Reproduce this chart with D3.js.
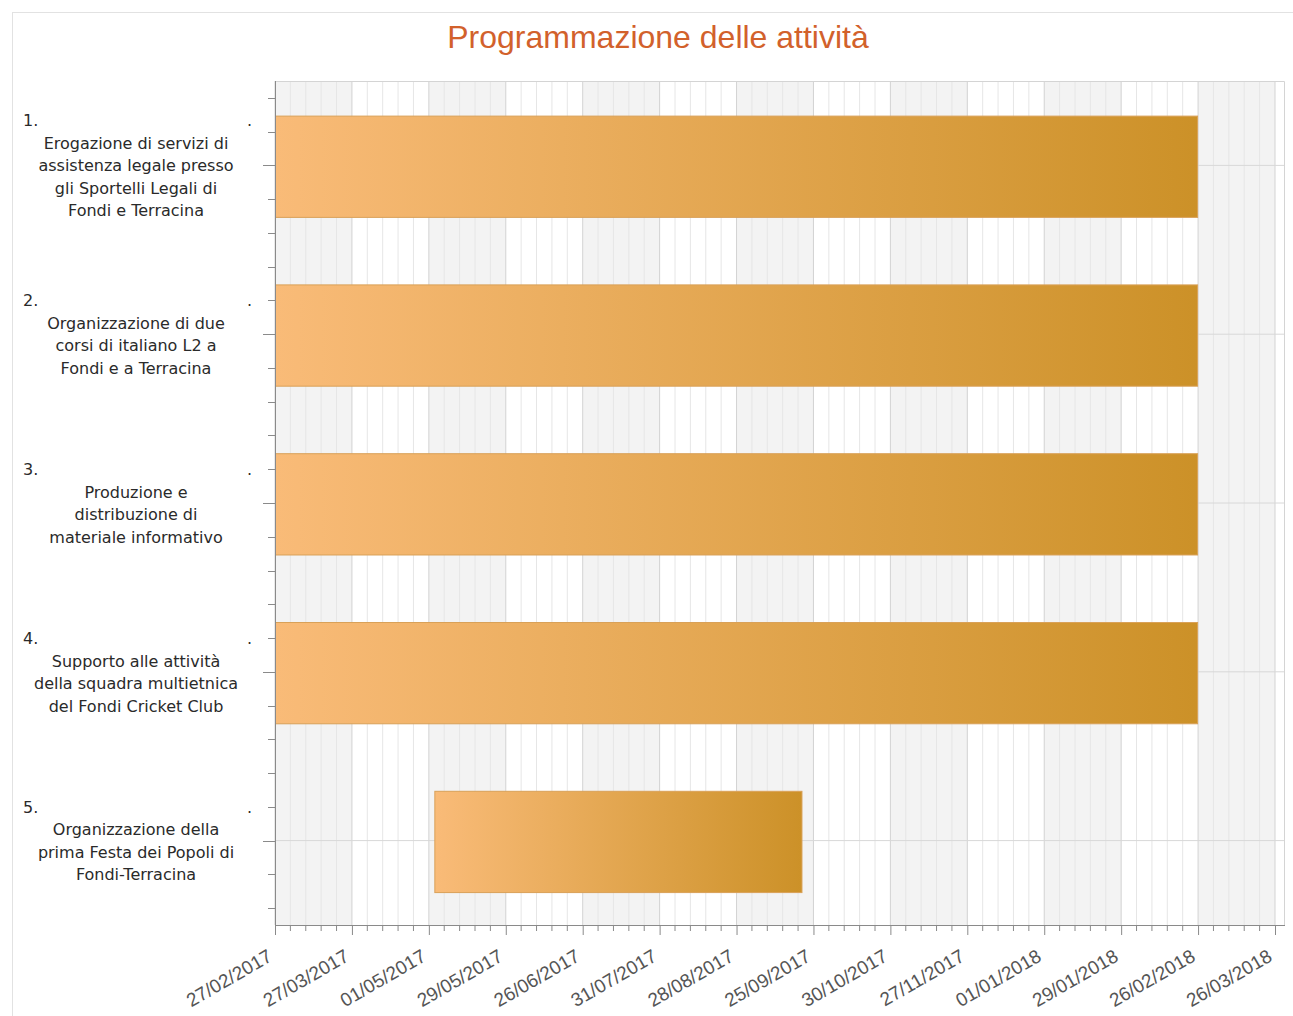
<!DOCTYPE html>
<html>
<head>
<meta charset="utf-8">
<script src="https://cdn.jsdelivr.net/npm/d3@7"></script>
<style>
  body { margin: 0; background: #fff; }
  svg { display: block; }
</style>
</head>
<body>
<svg width="1293" height="1016"></svg>
<script>
// Gantt chart - Programmazione delle attività
const chartTitle = "Programmazione delle attività";

const activityNums = ["1.", "2.", "3.", "4.", "5."];
const activityLabels = [
    ["Erogazione di servizi di", "assistenza legale presso", "gli Sportelli Legali di", "Fondi e Terracina"],
    ["Organizzazione di due", "corsi di italiano L2 a", "Fondi e a Terracina"],
    ["Produzione e", "distribuzione di", "materiale informativo"],
    ["Supporto alle attività", "della squadra multietnica", "del Fondi Cricket Club"],
    ["Organizzazione della", "prima Festa dei Popoli di", "Fondi-Terracina"]
];
const startDates = ["27/02/2017", "27/02/2017", "27/02/2017", "27/02/2017", "03/05/2017"];
const endDates   = ["26/02/2018", "26/02/2018", "26/02/2018", "26/02/2018", "21/09/2017"];

const tickLabels = ["27/02/2017", "27/03/2017", "01/05/2017", "29/05/2017", "26/06/2017",
    "31/07/2017", "28/08/2017", "25/09/2017", "30/10/2017", "27/11/2017",
    "01/01/2018", "29/01/2018", "26/02/2018", "26/03/2018"];

const parseDate = d3.timeParse("%d/%m/%Y");
const formatDate = d3.timeFormat("%d/%m/%Y");

const svg = d3.select("svg");
const width = +svg.attr("width");
const height = +svg.attr("height");

const margin = {top: 81, left: 275, bottom: 91, right: 8};
const innerwidth = width - margin.left - margin.right;
const innerheight = height - margin.top - margin.bottom;

// outer frame
svg.append("rect")
    .attr("x", 12.5).attr("y", 12.5)
    .attr("width", width + 20).attr("height", height + 20)
    .attr("fill", "none")
    .attr("stroke", "#e2e2e2");

svg.append("text")
    .attr("x", 658).attr("y", 48)
    .attr("text-anchor", "middle")
    .attr("font-family", "'Liberation Sans', Arial, sans-serif")
    .attr("font-size", 32)
    .attr("fill", "#d2612b")
    .text(chartTitle);

const tickDates = tickLabels.map(parseDate);
// every labelled tick gets the same width, the tool spaces them evenly
const step = (innerwidth - 10) / (tickDates.length - 1);
const xScale = d3.scaleTime()
    .domain(tickDates)
    .range(tickDates.map((d, i) => i * step));

const yScale = d3.scaleBand()
    .domain(activityNums)
    .range([0, innerheight]);
const bw = yScale.bandwidth();

const g = svg.append("g")
    .attr("transform", `translate(${margin.left}, ${margin.top})`);

// alternating bands
const bandPairs = d3.pairs(tickDates);
g.selectAll(".band").data(bandPairs.filter((p, i) => i % 2 === 0))
    .enter().append("rect")
        .attr("class", "band")
        .attr("x", p => xScale(p[0]))
        .attr("y", 0)
        .attr("width", p => xScale(p[1]) - xScale(p[0]))
        .attr("height", innerheight)
        .attr("fill", "#f3f3f3");

// minor grid (5 sub-divisions per label)
const minorX = [];
bandPairs.forEach(p => {
    const a = xScale(p[0]), b = xScale(p[1]);
    for (let k = 1; k < 5; k++) minorX.push(a + k * (b - a) / 5);
});
g.selectAll(".minor").data(minorX)
    .enter().append("line")
        .attr("x1", d => d).attr("x2", d => d)
        .attr("y1", 0).attr("y2", innerheight)
        .attr("stroke", "#e6e6e6");

g.selectAll(".major").data(tickDates)
    .enter().append("line")
        .attr("x1", d => xScale(d)).attr("x2", d => xScale(d))
        .attr("y1", 0).attr("y2", innerheight)
        .attr("stroke", "#d3d3d3");

// horizontal grid at category centres
g.selectAll(".hgrid").data(activityNums)
    .enter().append("line")
        .attr("x1", 0).attr("x2", innerwidth)
        .attr("y1", d => yScale(d) + bw / 2).attr("y2", d => yScale(d) + bw / 2)
        .attr("stroke", "#d8d8d8");

// plot border top / right
g.append("path")
    .attr("d", `M0,0.5H${innerwidth - 0.5}V${innerheight}`)
    .attr("fill", "none")
    .attr("stroke", "#d4d4d4");

// bars
const defs = svg.append("defs");
const grad = defs.append("linearGradient").attr("id", "barGrad");
grad.append("stop").attr("offset", "0%").attr("stop-color", "#f9bb78");
grad.append("stop").attr("offset", "100%").attr("stop-color", "#cc9128");

const tasks = activityNums.map((n, i) => ({
    num: n,
    start: parseDate(startDates[i]),
    end: parseDate(endDates[i])
}));

g.selectAll(".bar").data(tasks)
    .enter().append("rect")
        .attr("class", "bar")
        .attr("x", d => xScale(d.start) + 0.5)
        .attr("y", d => yScale(d.num) + bw * 0.205 + 0.5)
        .attr("width", d => xScale(d.end) - xScale(d.start) - 1)
        .attr("height", bw * 0.6)
        .attr("fill", "url(#barGrad)")
        .attr("stroke", "#d9a158");

// x axis
const xAxis = d3.axisBottom(xScale)
    .tickValues(tickDates)
    .tickFormat(formatDate)
    .tickSize(10)
    .tickPadding(0);

const xAxisG = g.append("g")
    .attr("transform", `translate(0, ${innerheight})`)
    .call(xAxis);
xAxisG.select(".domain").attr("stroke", "#8a8a8a").attr("d", `M0,0.5H${innerwidth}`);
xAxisG.selectAll(".tick line").attr("stroke", "#8a8a8a");
xAxisG.selectAll(".tick text")
    .attr("font-family", "'Liberation Sans', Arial, sans-serif")
    .attr("font-size", 19)
    .attr("fill", "#555")
    .attr("text-anchor", "end")
    .attr("dy", null)
    .attr("y", 0)
    .attr("transform", "translate(-2, 35) rotate(-30)");

xAxisG.selectAll(".minortick").data(minorX)
    .enter().append("line")
        .attr("x1", d => d).attr("x2", d => d)
        .attr("y1", 0).attr("y2", 6)
        .attr("stroke", "#8a8a8a");

// y axis (line + ticks, labels drawn below)
const yAxisG = g.append("g");
yAxisG.append("line")
    .attr("x1", 0.5).attr("x2", 0.5)
    .attr("y1", 0).attr("y2", innerheight)
    .attr("stroke", "#8a8a8a");

const yTicks = [];
activityNums.forEach(n => {
    for (let k = 0; k < 5; k++) yTicks.push({y: yScale(n) + bw * (k + 0.5) / 5, major: k === 2});
});
yAxisG.selectAll(".ytick").data(yTicks)
    .enter().append("line")
        .attr("x1", d => d.major ? -12 : -7).attr("x2", 0)
        .attr("y1", d => Math.round(d.y) + 0.5).attr("y2", d => Math.round(d.y) + 0.5)
        .attr("stroke", "#8a8a8a");

// category labels
const lineH = 22.5;
const labelG = svg.selectAll(".label").data(activityNums)
    .enter().append("g")
        .attr("class", "label")
        .attr("font-family", "'DejaVu Sans', Verdana, sans-serif")
        .attr("font-size", 16)
        .attr("fill", "#2a2a2a");

labelG.each(function(n, i) {
    const el = d3.select(this);
    const lines = activityLabels[i];
    const total = lines.length + 1;
    const cy = margin.top + yScale(n) + bw / 2;
    const base = j => cy + 6 + (j - (total - 1) / 2) * lineH;
    el.append("text").attr("x", 23).attr("y", base(0)).text(n);
    el.append("text").attr("x", 247).attr("y", base(0)).text(".");
    lines.forEach((t, j) => {
        el.append("text")
            .attr("x", 136)
            .attr("y", base(j + 1))
            .attr("text-anchor", "middle")
            .text(t);
    });
});
</script>
</body>
</html>
